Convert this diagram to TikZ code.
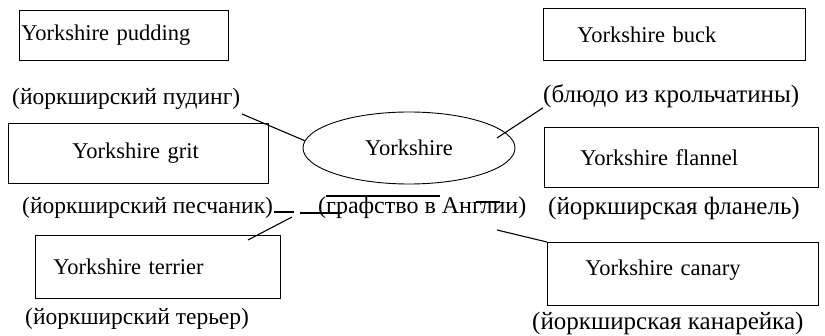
\documentclass[tikz,border=0pt]{standalone}
\usepackage{fontspec}
\setmainfont{Liberation Serif}
\usetikzlibrary{shapes.geometric}
\tikzset{
  box/.style={draw, rectangle, anchor=north west, inner ysep=0pt, align=left, line width=0.9pt},
  lbl/.style={anchor=west, inner sep=0pt, font=\fontsize{#1}{30}\selectfont},
  lbl/.default=23.5,
  link/.style={line width=1.1pt}
}

\begin{document}
\begin{tikzpicture}[x=1pt,y=-1pt,font=\fontsize{22.5}{26}\selectfont]
    \useasboundingbox (0,0) rectangle (825,336);
    % boxes
    \node[box,minimum height=50pt,inner xsep=2pt,text width=205pt] (pudding) at (19,10) {Yorkshire pudding};
    \node[box,minimum height=52pt,inner xsep=34pt,text width=194pt] (buck) at (543,8) {Yorkshire buck};
    \node[box,minimum height=60pt,inner xsep=64pt,text width=132pt] (grit) at (8,123) {Yorkshire grit};
    \node[box,minimum height=60pt,inner xsep=36pt,text width=202pt] (flannel) at (544,127) {Yorkshire flannel};
    \node[box,minimum height=63pt,inner xsep=18pt,text width=209pt] (terrier) at (35,235) {Yorkshire terrier};
    \node[box,minimum height=63pt,inner xsep=38pt,text width=195pt,text depth=12pt] (canary) at (547,242) {Yorkshire canary};
    \node[draw,ellipse,line width=0.9pt,minimum width=212pt,minimum height=72pt,inner sep=0pt] (yk) at (409,148) {Yorkshire};
    % translations
    \node[lbl] (lpudding) at (12,99) {(йоркширский пудинг)};
    \node[lbl=25] (lbuck) at (543,96) {(блюдо из крольчатины)};
    \node[lbl] (lgrit) at (22,208) {(йоркширский песчаник)};
    \node[lbl=24] (lcounty) at (318,208) {(графство в Англии)};
    \node[lbl=25] (lflannel) at (548,208) {(йоркширская фланель)};
    \node[lbl] (lterrier) at (25,319) {(йоркширский терьер)};
    \node[lbl=25] (lcanary) at (532,323) {(йоркширская канарейка)};
    % connectors
    \coordinate (pend) at (242,114);
    \coordinate (bstart) at (497,138);
    \coordinate (tlow) at (248,240);
    \coordinate (tup) at (292,217);
    \coordinate (cstart) at (497,230);
    \draw[link] (pend) -- (yk.176);
    \draw[link] (bstart) -- (lbuck.south west);
    \draw[link] (tlow) -- (tup);
    \draw[link] (cstart) -- (canary.north west);
    \draw[link] (274,212) -- (294,212);
    \draw[link] (300,213) -- (342,213);
    \draw[link] (326,196) -- (440,196);
    \draw[link] (476,202) -- (500,202);
  \end{tikzpicture}
\end{document}
